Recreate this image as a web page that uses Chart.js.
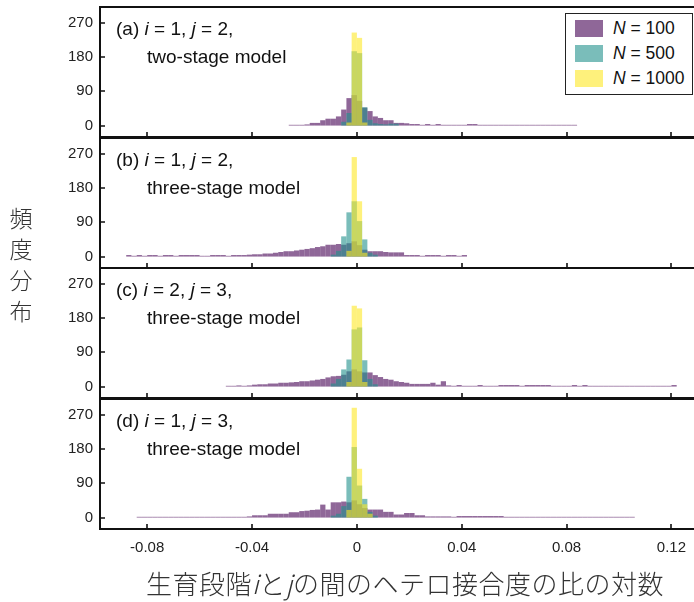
<!DOCTYPE html>
<html><head><meta charset="utf-8">
<script src="https://cdn.jsdelivr.net/npm/chart.js@4.4.0/dist/chart.umd.min.js"></script>
<style>
html,body{margin:0;padding:0;background:#fff;}
body{width:694px;height:602px;overflow:hidden;position:relative;font-family:"Liberation Sans",Arial,sans-serif;}
canvas{position:absolute;left:0;}
.plabel{position:absolute;left:116px;font-size:19px;line-height:28px;color:#111;white-space:nowrap;z-index:5;}
.plabel .l2{padding-left:31px;}
#legend{position:absolute;left:565px;top:13px;width:128px;height:82px;border:1.5px solid #222;box-sizing:border-box;background:#fff;z-index:6;}
.lrow{position:absolute;left:575px;height:17px;display:flex;align-items:center;font-size:17.5px;color:#111;white-space:nowrap;z-index:7;}
.sw{width:28px;height:17px;margin-right:10px;}
#ytitle{position:absolute;left:8px;top:202px;width:26px;font-family:"Noto Sans CJK JP",sans-serif;font-weight:300;font-size:23px;line-height:31px;color:#333;text-align:center;}
#xtitle{position:absolute;left:116px;width:578px;top:565px;text-align:center;font-family:"Noto Sans CJK JP",sans-serif;font-weight:300;font-size:26px;line-height:36px;color:#333;white-space:nowrap;letter-spacing:0.5px;}
</style></head><body>
<canvas id="ca" width="694" height="134" style="top:5px"></canvas>
<canvas id="cb" width="694" height="134" style="top:136px"></canvas>
<canvas id="cc" width="694" height="134" style="top:266px"></canvas>
<canvas id="cd" width="694" height="167" style="top:397px"></canvas>

<div class="plabel" style="top:15px">(a) <i>i</i> = 1, <i>j</i> = 2,<br><span class="l2">two-stage model</span></div>
<div class="plabel" style="top:146px">(b) <i>i</i> = 1, <i>j</i> = 2,<br><span class="l2">three-stage model</span></div>
<div class="plabel" style="top:276px">(c) <i>i</i> = 2, <i>j</i> = 3,<br><span class="l2">three-stage model</span></div>
<div class="plabel" style="top:407px">(d) <i>i</i> = 1, <i>j</i> = 3,<br><span class="l2">three-stage model</span></div>

<div id="legend"></div>
<div class="lrow" style="top:20px"><div class="sw" style="background:rgba(68,1,84,0.6)"></div><span><i>N</i> = 100</span></div>
<div class="lrow" style="top:45px"><div class="sw" style="background:rgba(33,145,140,0.6)"></div><span><i>N</i> = 500</span></div>
<div class="lrow" style="top:70px"><div class="sw" style="background:rgba(253,231,37,0.6)"></div><span><i>N</i> = 1000</span></div>

<div id="ytitle">頻<br>度<br>分<br>布</div>
<div id="xtitle">生育段階<i>i</i>と<i>j</i>の間のヘテロ接合度の比の対数</div>

<script>
// ---- data ----
const binWidth = 0.002;
const xTicks = [-0.08, -0.04, 0, 0.04, 0.08, 0.12];
const xTickLabels = ['-0.08', '-0.04', '0', '0.04', '0.08', '0.12'];
const yTicks = [0, 90, 180, 270];
const yTickLabels = ['0', '90', '180', '270'];
const seriesColors = ['rgba(68,1,84,0.6)', 'rgba(33,145,140,0.6)', 'rgba(253,231,37,0.6)'];
const seriesNames = ['N = 100', 'N = 500', 'N = 1000'];

// (a) i=1, j=2, two-stage model  (start = left edge of first bin)
const aStart100 = -0.026;
const a100 = [2,2,2,3,7,7,14,18,18,24,42,72,80,65,47,38,24,20,14,14,7,7,6,4,4,2,4,2,4,2,2,2,2,2,4,4,
              2,2,2,2,2,2,2,2,2,2,2,2,2,2,2,2,2,2,2];
const aStart500 = -0.006;
const a500 = [10,33,195,190,48,15,6,4,3,5,5];
const aStart1000 = -0.004;
const a1000 = [8,244,230,8];

// (b) i=1, j=2, three-stage model
const bStart100 = -0.088;
const b100 = [4,2,4,2,4,4,2,4,4,2,4,4,4,4,2,2,4,4,4,2,4,4,4,5,6,6,8,8,10,12,14,14,16,18,20,22,25,27,31,31,
              33,31,35,40,30,18,14,14,14,12,11,11,11,4,4,4,2,4,4,4,2,4,4,2,4];
const bStart500 = -0.010;
const b500 = [5,15,53,116,145,93,45,10,5];
const bStart1000 = -0.004;
const b1000 = [15,261,145,10];

// (c) i=2, j=3, three-stage model
const cStart100 = -0.050;
const c100 = [2,2,3,2,3,5,6,6,8,8,10,10,11,12,14,14,16,18,20,24,27,28,31,40,45,40,37,37,30,25,
              20,18,14,12,10,7,7,7,7,10,5,14,3,2,4,2,2,2,4,2,2,2,4,4,4,4,2,4,4,4,4,4,2,2,2,2,4,2,4,
              2,2,2,2,2,2,2,2,2,2,2,2,2,2,2,2,4];
const cStart500 = -0.010;
const c500 = [8,20,45,71,150,155,69,20,6];
const cStart1000 = -0.004;
const c1000 = [12,212,205,12];

// (d) i=1, j=3, three-stage model
const dStart100 = -0.084;
const d100 = [2,2,2,2,2,2,2,2,2,2,2,2,2,2,2,2,2,2,2,2,2,
              3,6,6,6,10,10,10,10,14,14,17,18,20,21,34,21,40,40,42,40,45,35,25,21,21,21,15,15,8,8,12,12,6,6,
              3,3,3,3,3,2,4,4,4,4,4,4,4,4,4,
              2,2,2,2,2,2,2,2,2,2,2,2,2,2,2,2,2,2,2,2,2,2,2,2,2];
const dStart500 = -0.010;
const d500 = [5,10,30,107,185,84,49,15,5];
const dStart1000 = -0.004;
const d1000 = [20,288,128,35,10];

const panels = [
  {id:'ca', series:[[aStart100,a100],[aStart500,a500],[aStart1000,a1000]], last:false},
  {id:'cb', series:[[bStart100,b100],[bStart500,b500],[bStart1000,b1000]], last:false},
  {id:'cc', series:[[cStart100,c100],[cStart500,c500],[cStart1000,c1000]], last:false},
  {id:'cd', series:[[dStart100,d100],[dStart500,d500],[dStart1000,d1000]], last:true}
];

function toPoints(start, counts){
  const k0 = Math.round(start / binWidth);
  return counts.map((v, i) => ({x: (k0 + i + 0.5) * binWidth, y: v}));
}

const framePlugin = {
  id: 'frame',
  afterDatasetsDraw(chart){
    const {ctx, chartArea:{left, top, right, bottom}} = chart;
    const xs = chart.scales.x, ys = chart.scales.y;
    ctx.save();
    ctx.strokeStyle = '#111';
    ctx.lineWidth = 2;
    ctx.beginPath();
    ctx.moveTo(right + 2, top); ctx.lineTo(left, top); ctx.lineTo(left, bottom); ctx.lineTo(right + 2, bottom);
    ctx.stroke();
    ctx.lineWidth = 1.6;
    ctx.beginPath();
    xTicks.forEach(v => { const px = Math.round(xs.getPixelForValue(v)); ctx.moveTo(px, bottom); ctx.lineTo(px, bottom - 5); });
    yTicks.forEach(v => { const py = Math.round(ys.getPixelForValue(v)); ctx.moveTo(left, py); ctx.lineTo(left + 5, py); });
    ctx.stroke();
    ctx.restore();
  }
};

panels.forEach(p => {
  const datasets = p.series.map((s, si) => ({
    label: seriesNames[si],
    data: toPoints(s[0], s[1]),
    backgroundColor: seriesColors[si],
    borderWidth: 0,
    barPercentage: 1,
    categoryPercentage: 1,
    inflateAmount: 0,
    grouped: false,
    order: 2 - si
  }));
  new Chart(document.getElementById(p.id), {
    type: 'bar',
    data: {datasets},
    plugins: [framePlugin],
    options: {
      responsive: false,
      maintainAspectRatio: false,
      animation: false,
      events: [],
      layout: {padding: {top: 2, bottom: p.last ? 0 : 2, left: 0, right: 0}},
      plugins: {legend: {display: false}, tooltip: {enabled: false}},
      scales: {
        x: {
          type: 'linear', min: -0.098, max: 0.1286, offset: false,
          display: p.last,
          grid: {display: false, drawTicks: false},
          border: {display: false},
          afterBuildTicks: s => { s.ticks = xTicks.map(v => ({value: v})); },
          afterFit: s => { s.height = p.last ? 35 : 0; s.paddingLeft = 0; s.paddingRight = 0; s.paddingTop = 0; s.paddingBottom = 0; },
          ticks: {
            autoSkip: false, maxRotation: 0, padding: 10, color: '#222',
            font: {family: '"Liberation Sans", Arial, sans-serif', size: 15},
            callback: (v, i) => xTickLabels[i]
          }
        },
        y: {
          type: 'linear', min: -30, max: 311,
          grid: {display: false, drawTicks: false},
          border: {display: false},
          afterBuildTicks: s => { s.ticks = yTicks.map(v => ({value: v})); },
          afterFit: s => { s.width = 100; s.paddingTop = 0; s.paddingBottom = 0; s.paddingLeft = 0; s.paddingRight = 0; },
          ticks: {
            autoSkip: false, padding: 7, color: '#222',
            font: {family: '"Liberation Sans", Arial, sans-serif', size: 15},
            callback: (v, i) => yTickLabels[i]
          }
        }
      }
    }
  });
});
</script>
</body></html>
